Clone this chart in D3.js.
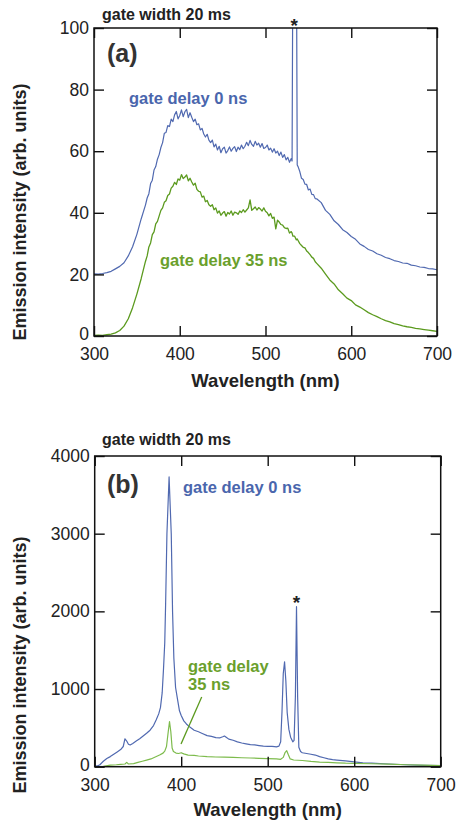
<!DOCTYPE html>
<html><head><meta charset="utf-8">
<script src="https://cdn.jsdelivr.net/npm/d3@7/dist/d3.min.js"></script>
<style>
html,body{margin:0;padding:0;background:#fff;}
svg{display:block;}
text{font-family:"Liberation Sans",Arial,Helvetica,sans-serif;}
</style></head>
<body>
<script>
// ---------- DATA ----------
const xTicks = [300, 400, 500, 600, 700];
const yTicksA = [0, 20, 40, 60, 80, 100];
const yTicksB = [0, 1000, 2000, 3000, 4000];

// Panel (a): wavelength (nm) grid and intensities
const wlA = [300,305,310,315,320,325,330,335,340,345,350,355,360,
362,364,366,368,370,372,374,376,378,380,382,384,386,388,390,392,394,396,398,400,
402,404,406,408,410,412,414,416,418,420,422,424,426,428,430,432,434,436,438,440,
442,444,446,448,450,452,454,456,458,460,462,464,466,468,470,472,474,476,478,480,
482,484,486,488,490,492,494,496,498,500,502,504,506,508,510,512,514,516,518,520,
522,524,526,528,530,
531,532,534,536,537,
538,540,542,544,546,548,550,552,554,556,558,560,
565,570,575,580,585,590,595,600,605,610,615,620,625,630,635,640,645,650,655,660,
665,670,675,680,685,690,695,700];

const a0ns = [20.2,20.1,20.3,20.6,21.0,21.8,22.6,23.8,26.0,29.0,33.0,38.0,42.5,
44.8,46.2,49.5,50.6,53.9,55.0,57.4,58.9,61.2,62.8,65.8,66.1,68.3,68.0,70.4,69.6,71.8,72.9,70.5,71.6,
73.4,71.2,72.8,73.6,70.9,72.5,71.0,69.6,70.4,68.6,68.9,66.9,67.4,65.6,64.6,65.5,63.6,62.8,63.6,61.4,
62.3,60.4,61.6,59.5,60.8,61.3,59.4,60.2,61.4,60.0,60.9,61.5,59.9,61.3,60.5,62.0,60.8,61.6,62.9,61.8,
63.5,62.2,61.6,63.2,62.0,62.6,61.3,62.5,60.9,61.2,62.0,60.4,61.0,59.7,60.8,59.4,60.0,58.6,59.7,58.0,
58.9,57.2,58.0,56.4,57.6,
56.8,130,250,130,55.5,
55.0,53.4,51.2,50.8,49.3,49.2,47.4,47.7,46.0,45.9,44.6,44.5,
43.3,40.8,39.5,37.4,36.2,34.5,33.6,32.3,31.4,29.9,29.1,28.1,27.6,26.7,26.2,25.5,25.1,24.5,24.2,23.7,
23.6,23.0,22.8,22.4,22.3,21.9,21.8,21.5];

const a35ns = [0.2,0.3,0.2,0.4,0.6,1.0,1.8,3.2,5.6,9.2,13.6,18.6,24.2,
26.0,28.9,30.2,32.9,33.8,36.4,37.2,39.0,40.8,41.6,43.4,43.9,45.6,46.1,48.0,48.6,49.9,49.2,51.0,50.6,
52.4,51.1,51.6,52.3,50.4,51.2,50.0,49.0,49.6,47.6,47.0,46.8,45.1,45.4,43.6,44.0,42.6,42.1,42.6,41.0,
41.6,39.9,40.6,39.2,39.9,40.4,38.9,40.1,39.6,40.6,39.2,40.2,40.0,39.5,40.6,40.1,41.0,40.2,40.9,41.6,
44.2,40.8,41.3,41.9,40.9,41.7,41.2,40.6,41.6,40.5,40.0,39.0,39.8,38.2,38.6,34.8,37.6,37.0,36.2,36.0,
35.2,34.9,35.0,33.4,33.9,
33.4,32.4,32.4,31.2,31.5,
31.0,30.0,29.4,28.8,28.6,27.6,27.1,26.4,25.6,25.2,24.1,23.5,
22.0,20.1,18.2,16.9,15.0,13.7,12.3,11.5,10.1,9.4,8.5,7.6,6.9,6.3,5.6,5.0,4.6,4.0,3.7,3.3,
3.0,2.8,2.5,2.3,2.1,1.9,1.7,1.5];

// Panel (b)
const wlB0 = [300,303,306,310,314,318,322,326,330,333,335,337,339,341,344,348,352,356,360,364,368,371,374,376,378,379.5,381,382,383.5,386,388.5,390,391.5,393.5,396,398,400,403,406,410,415,420,425,430,435,440,445,448,450,452,455,460,465,470,475,480,485,490,495,500,505,508,510,513,515,516.5,518,519.5,521,522.5,524.5,526.5,529,530.5,532,533.3,534.6,536,538,540,545,550,555,560,565,570,575,580,590,600,610,620,640,660,680,700];
const b0ns = [5,10,25,70,105,130,160,190,220,260,360,330,290,280,300,330,360,395,430,470,530,600,680,760,950,1250,1600,2100,3000,3730,3000,2000,1400,1020,850,720,660,590,550,510,470,450,425,400,390,375,372,385,395,380,355,340,320,305,295,285,280,272,265,262,262,258,255,265,320,700,1200,1350,1100,700,480,380,320,340,900,2060,900,250,195,180,170,160,150,130,115,100,90,85,75,62,50,45,35,25,18,15];

const wlB35 = [300,310,318,325,330,335,337,339,345,350,355,360,365,370,375,379,381,383,385,386.5,388,389.5,391,394,397,400,403,408,415,420,430,440,450,460,470,480,490,500,510,515,518,520,522,524,526,530,540,550,560,570,580,590,600,620,640,660,680,700];
const b35ns = [0,5,20,25,30,35,55,35,40,55,70,85,100,125,150,175,200,260,450,580,450,240,195,175,170,180,165,150,145,138,130,125,122,120,115,112,108,105,100,95,120,180,206,150,100,86,80,68,60,55,50,45,43,38,32,25,20,15];

// ---------- STYLE ----------
const W = 457, H = 823;
const BLUE = "#5069b0", BLUE_T = "#4a66ad";
const GREEN_A = "#5b9a1e", GREEN_B = "#7dbb4c", GREEN_T = "#6aa02c";

const svg = d3.select("body").append("svg").attr("width", W).attr("height", H);

function panel(cfg) {
  const x = d3.scaleLinear().domain([300, 700]).range([cfg.x0, cfg.x1]);
  const y = d3.scaleLinear().domain(cfg.ydom).range([cfg.yb, cfg.yt]);
  const g = svg.append("g");
  const cid = "clip" + cfg.id;
  svg.append("defs").append("clipPath").attr("id", cid)
    .append("rect").attr("x", cfg.x0).attr("y", cfg.yt).attr("width", cfg.x1 - cfg.x0).attr("height", cfg.yb - cfg.yt);

  const line = d3.line().x(d => x(d[0])).y(d => y(d[1]));
  cfg.series.forEach(s => {
    g.append("path").attr("clip-path", `url(#${cid})`)
      .datum(s.wl.map((w, i) => [w, s.v[i]]))
      .attr("d", line).attr("fill", "none").attr("stroke", s.color)
      .attr("stroke-width", s.sw).attr("stroke-linejoin", "round");
  });

  // axes with inward ticks
  const tl = 10;
  const fmt = d => d;
  const bottom = g.append("g").attr("transform", `translate(0,${cfg.yb})`)
    .call(d3.axisBottom(x).tickValues(xTicks).tickSize(-tl).tickPadding(12).tickFormat(fmt));
  const top = g.append("g").attr("transform", `translate(0,${cfg.yt})`)
    .call(d3.axisTop(x).tickValues(xTicks).tickSize(-tl).tickFormat(""));
  const left = g.append("g").attr("transform", `translate(${cfg.x0},0)`)
    .call(d3.axisLeft(y).tickValues(cfg.yticks).tickSize(-tl).tickPadding(5).tickFormat(fmt));
  const right = g.append("g").attr("transform", `translate(${cfg.x1},0)`)
    .call(d3.axisRight(y).tickValues(cfg.yticks).tickSize(-tl).tickFormat(""));
  [bottom, top, left, right].forEach(a => {
    a.select(".domain").remove();
    a.selectAll(".tick line").attr("stroke", "#111").attr("stroke-width", 1.4);
    a.selectAll(".tick text").attr("fill", "#222").style("font-size", "17.5px")
      .style("font-family", '"Liberation Sans",Arial,sans-serif');
  });
  bottom.selectAll(".tick text").attr("dy", "0.71em");
  left.selectAll(".tick text").attr("dy", d => d === 0 ? "0.2em" : "0.32em");
  g.append("rect").attr("x", cfg.x0).attr("y", cfg.yt).attr("width", cfg.x1 - cfg.x0)
    .attr("height", cfg.yb - cfg.yt).attr("fill", "none").attr("stroke", "#111").attr("stroke-width", 1.5);

  // axis titles
  g.append("text").attr("x", (cfg.x0 + cfg.x1) / 2).attr("y", cfg.xtY).attr("text-anchor", "middle")
    .style("font-size", "18.5px").style("font-weight", "bold").attr("fill", "#222").text("Wavelength (nm)");
  g.append("text").attr("transform", `translate(26,${cfg.ytC}) rotate(-90)`).attr("text-anchor", "middle")
    .style("font-size", "18px").style("font-weight", "bold").attr("fill", "#222").text("Emission intensity (arb. units)");
  return {x, y, g};
}

// Panel (a)
const pa = panel({
  id: "a", x0: 94, x1: 437, yt: 28, yb: 336, ydom: [0, 100], yticks: yTicksA,
  xtY: 387, ytC: 212,
  series: [
    {wl: wlA, v: a0ns, color: BLUE, sw: 1.2},
    {wl: wlA, v: a35ns, color: GREEN_A, sw: 1.3}
  ]
});
pa.g.append("text").attr("x", 102).attr("y", 19.5).style("font-size", "16px").style("font-weight", "bold").attr("fill", "#222").text("gate width 20 ms");
pa.g.append("text").attr("x", 107).attr("y", 62).style("font-size", "25px").style("font-weight", "bold").attr("fill", "#333").text("(a)");
pa.g.append("text").attr("x", pa.x(533.5)).attr("y", 32).attr("text-anchor", "middle").style("font-size", "19px").style("font-weight", "bold").attr("fill", "#222").text("*");
pa.g.append("text").attr("x", 129).attr("y", 104).style("font-size", "16.5px").style("font-weight", "bold").attr("fill", BLUE_T).text("gate delay 0 ns");
pa.g.append("text").attr("x", 160).attr("y", 266).style("font-size", "16.5px").style("font-weight", "bold").attr("fill", GREEN_T).text("gate delay 35 ns");

// Panel (b)
const pb = panel({
  id: "b", x0: 94.7, x1: 440.7, yt: 456, yb: 766.7, ydom: [0, 4000], yticks: yTicksB,
  xtY: 815.5, ytC: 665,
  series: [
    {wl: wlB0, v: b0ns, color: BLUE, sw: 1.2},
    {wl: wlB35, v: b35ns, color: GREEN_B, sw: 1.2}
  ]
});
pb.g.append("text").attr("x", 102).attr("y", 445).style("font-size", "16px").style("font-weight", "bold").attr("fill", "#222").text("gate width 20 ms");
pb.g.append("text").attr("x", 107).attr("y", 493).style("font-size", "25px").style("font-weight", "bold").attr("fill", "#333").text("(b)");
pb.g.append("text").attr("x", 183).attr("y", 493).style("font-size", "16.5px").style("font-weight", "bold").attr("fill", BLUE_T).text("gate delay 0 ns");
pb.g.append("text").attr("x", pb.x(533.3)).attr("y", 609).attr("text-anchor", "middle").style("font-size", "19px").style("font-weight", "bold").attr("fill", "#222").text("*");
pb.g.append("text").attr("x", 188).attr("y", 672).style("font-size", "16.5px").style("font-weight", "bold").attr("fill", GREEN_T).text("gate delay");
pb.g.append("text").attr("x", 188).attr("y", 690).style("font-size", "16.5px").style("font-weight", "bold").attr("fill", GREEN_T).text("35 ns");
pb.g.append("line").attr("x1", pb.x(423.7)).attr("y1", pb.y(897)).attr("x2", pb.x(399.8)).attr("y2", pb.y(292))
  .attr("stroke", GREEN_A).attr("stroke-width", 1.3);
</script>
</body></html>
